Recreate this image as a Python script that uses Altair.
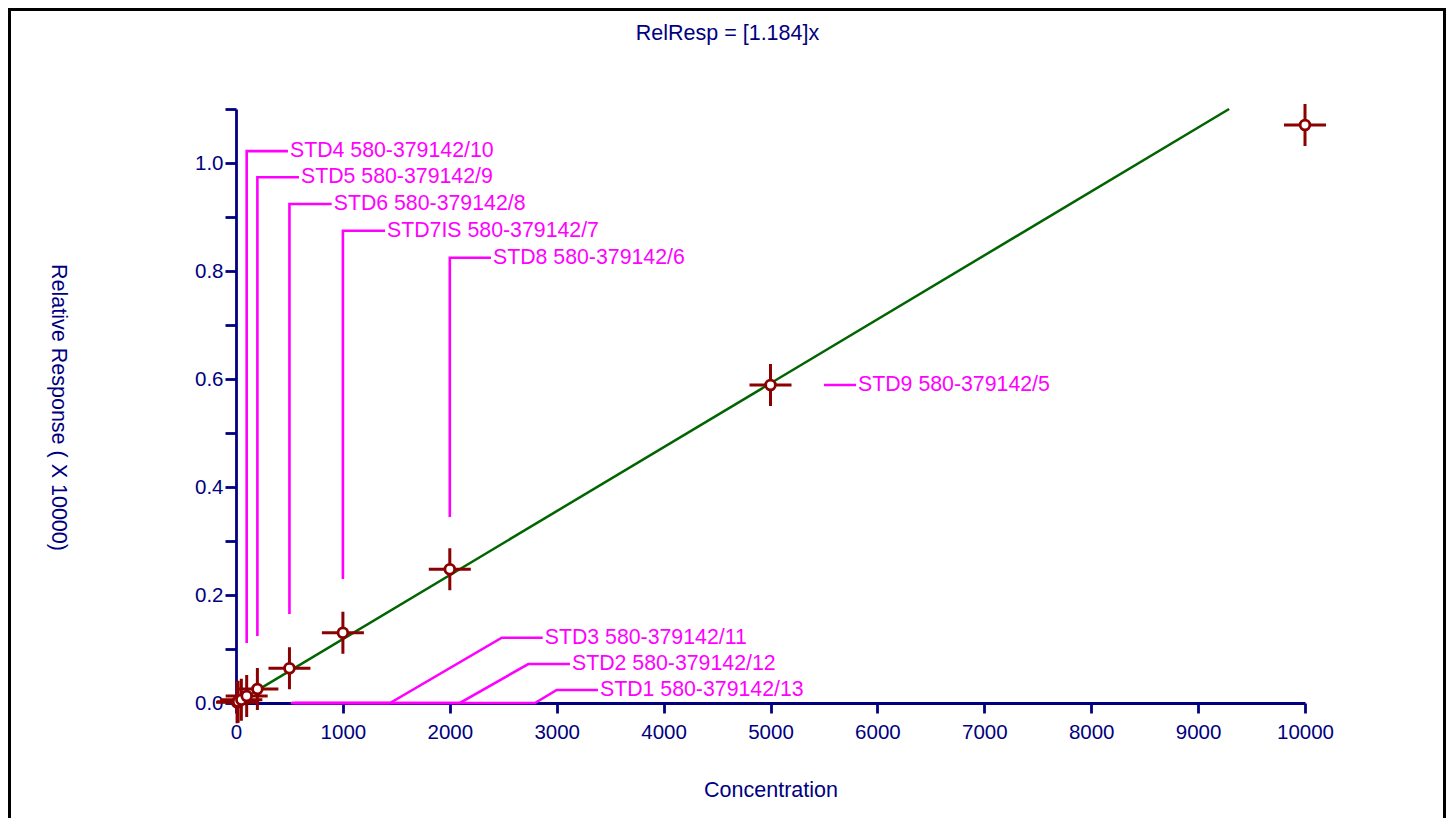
import altair as alt
import pandas as pd

# ---- data ----
conc = [10, 20, 50, 100, 200, 500, 1000, 2000, 5000, 10000]
rel_resp = [0.0012, 0.0025, 0.006, 0.013, 0.0259, 0.0643, 0.1302, 0.2476, 0.589, 1.0704]

fit_conc = [150, 9290]
fit_val = [0.0178, 1.1]

title_text = "RelResp = [1.184]x"

label_text = ["STD1 580-379142/13", "STD2 580-379142/12", "STD3 580-379142/11",
              "STD4 580-379142/10", "STD5 580-379142/9", "STD6 580-379142/8",
              "STD7IS 580-379142/7", "STD8 580-379142/6", "STD9 580-379142/5"]
label_conc = [3386, 3124, 2869, 486, 589, 895, 1394, 2385, 5800]
label_val = [0.0241, 0.0722, 0.1209, 1.022, 0.9735, 0.924, 0.8746, 0.8246, 0.589]

leader_paths = [
    [(514, 0), (2797, 0), (3000, 0.0241), (3386, 0.0241)],
    [(524, 0), (2095, 0), (2734, 0.0722), (3124, 0.0722)],
    [(552, 0), (1441, 0), (2486, 0.1209), (2869, 0.1209)],
    [(100, 0.111), (100, 1.022), (486, 1.022)],
    [(200, 0.124), (200, 0.9735), (589, 0.9735)],
    [(500, 0.1648), (500, 0.924), (895, 0.924)],
    [(1000, 0.2296), (1000, 0.8746), (1394, 0.8746)],
    [(2000, 0.3444), (2000, 0.8246), (2385, 0.8246)],
    [(5500, 0.589), (5800, 0.589)],
]

x_ticks = [0, 1000, 2000, 3000, 4000, 5000, 6000, 7000, 8000, 9000, 10000]
y_ticks = [0.0, 0.1, 0.2, 0.3, 0.4, 0.5, 0.6, 0.7, 0.8, 0.9, 1.0, 1.1]

NAVY = "#000080"
DARKRED = "#8B0000"
MAGENTA = "#FF00FF"
GREEN = "#006400"
FONT = "Liberation Sans"

pts = pd.DataFrame({"conc": conc, "val": rel_resp})
fit = pd.DataFrame({"conc": fit_conc, "val": fit_val})
labels = pd.DataFrame({"text": label_text, "conc": label_conc, "val": label_val})
rows = []
for name, path in zip(label_text, leader_paths):
    for i, (cx, cy) in enumerate(path):
        rows.append({"label": name, "seq": i, "conc": cx, "val": cy})
leaders = pd.DataFrame(rows)

xscale = alt.Scale(domain=[0, 10000], nice=False, zero=False)
yscale = alt.Scale(domain=[0, 1.1], nice=False, zero=False)

xaxis = alt.Axis(values=x_ticks, format="d", grid=False, domainColor=NAVY, domainWidth=2.8,
                 tickColor=NAVY, tickWidth=2.8, tickSize=10, labelColor=NAVY,
                 labelFont=FONT, labelFontSize=20.5, labelPadding=9,
                 labelFlush=False, labelOverlap=False,
                 title="Concentration", titleColor=NAVY, titleFont=FONT, titleFontSize=21.5,
                 titleFontWeight="normal", titleX=534.5, titleY=87, titleBaseline="middle",
                 titleAlign="center")
yaxis = alt.Axis(values=y_ticks, grid=False, domainColor=NAVY, domainWidth=2.8,
                 tickColor=NAVY, tickWidth=2.8, tickSize=11, labelColor=NAVY,
                 labelFont=FONT, labelFontSize=20.5, labelPadding=2,
                 labelFlush=False, labelOverlap=False,
                 labelExpr="(round(datum.value*10) % 2 == 0 && datum.value < 1.05) ? format(datum.value, '.1f') : ''",
                 title="Relative Response ( X 10000)", titleColor=NAVY, titleFont=FONT,
                 titleFontSize=21.5, titleFontWeight="normal", titleAngle=90,
                 titleX=-179, titleY=298, titleBaseline="middle", titleAlign="center")

base_x = alt.X("conc:Q", scale=xscale, axis=xaxis)
base_y = alt.Y("val:Q", scale=yscale, axis=yaxis)

frame = alt.Chart(pd.DataFrame({"k": [0]})).mark_rect(
    fill="transparent", stroke="black", strokeWidth=3
).encode(x=alt.value(-226.5), x2=alt.value(1208.5), y=alt.value(-99.5), y2=alt.value(740))

title_mark = alt.Chart(pd.DataFrame({"t": [title_text]})).mark_text(
    align="center", baseline="middle", color=NAVY, font=FONT, fontSize=21.5
).encode(x=alt.value(491.5), y=alt.value(-75), text="t:N")

fit_line = alt.Chart(fit).mark_line(color=GREEN, strokeWidth=2.5).encode(
    x=base_x, y=base_y)

leader_lines = alt.Chart(leaders).mark_line(color=MAGENTA, strokeWidth=2.6).encode(
    x=alt.X("conc:Q", scale=xscale), y=alt.Y("val:Q", scale=yscale),
    detail="label:N", order="seq:Q")

crosses = alt.Chart(pts).mark_point(
    shape="M-1,0L1,0M0,-1L0,1", size=1764, filled=False, stroke=DARKRED,
    strokeWidth=3, opacity=1
).encode(x=alt.X("conc:Q", scale=xscale), y=alt.Y("val:Q", scale=yscale))

circles = alt.Chart(pts).mark_point(
    shape="circle", size=95, filled=True, fill="white", stroke=DARKRED,
    strokeWidth=2.8, opacity=1
).encode(x=alt.X("conc:Q", scale=xscale), y=alt.Y("val:Q", scale=yscale))

texts = alt.Chart(labels).mark_text(
    align="left", baseline="middle", dx=2, color=MAGENTA, font=FONT, fontSize=21.3
).encode(x=alt.X("conc:Q", scale=xscale), y=alt.Y("val:Q", scale=yscale), text="text:N")

chart = alt.layer(frame, title_mark, fit_line, leader_lines, crosses, circles, texts).properties(
    width=1069, height=594,
    autosize=alt.AutoSizeParams(type="none"),
    padding={"left": 228, "top": 101, "right": 142, "bottom": 115},
).configure(background="white", view=alt.ViewConfig(strokeWidth=0, stroke="transparent"))

chart.save("out.html", embed_options={"renderer": "svg", "actions": False})
